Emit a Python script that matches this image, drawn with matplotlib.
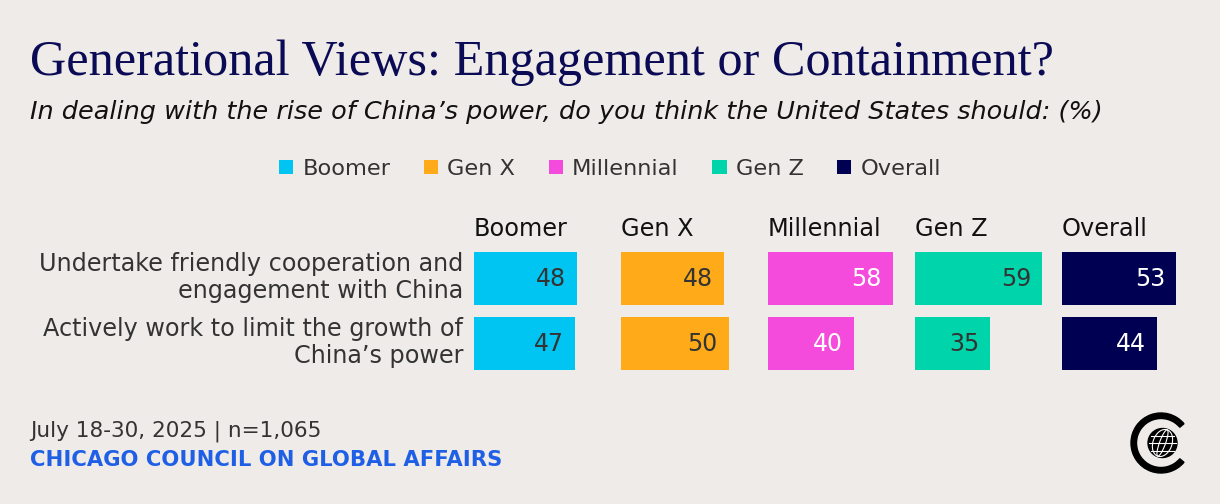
import matplotlib.pyplot as plt
from matplotlib.patches import Patch, Wedge, Circle, Ellipse

W, H = 1220, 504
BG = '#efebe8'
NAVY = '#0b0b55'
TXT = '#333333'

# data -------------------------------------------------------------
groups = ['Boomer', 'Gen X', 'Millennial', 'Gen Z', 'Overall']
answers = ['Undertake friendly cooperation and\nengagement with China',
           'Actively work to limit the growth of\nChina\u2019s power']
boomer = [48, 47]
gen_x = [48, 50]
millennial = [58, 40]
gen_z = [59, 35]
overall = [53, 44]
series = [boomer, gen_x, millennial, gen_z, overall]

colors = ['#00c4f2', '#ffab19', '#f54bdc', '#00d4aa', '#000052']
value_colors = [TXT, TXT, 'white', TXT, 'white']


def fx(x):
    return x / W


def fy(y):
    return 1 - y / H


fig = plt.figure(figsize=(W / 100, H / 100), dpi=100, facecolor=BG)

# titles
fig.text(fx(30), fy(75), 'Generational Views: Engagement or Containment?',
         family='Liberation Serif', fontsize=36.2, color=NAVY, va='baseline')
fig.text(fx(30), fy(119),
         'In dealing with the rise of China\u2019s power, do you think the United States should: (%)',
         family='DejaVu Sans', style='italic', fontsize=18.35, color='#111111', va='baseline')

# legend
handles = [Patch(facecolor=c, edgecolor='none', label=g) for g, c in zip(groups, colors)]
fig.legend(handles=handles, loc='center', bbox_to_anchor=(fx(610), fy(169)), ncol=5,
           frameon=False, handlelength=0.63, handleheight=0.63,
           handletextpad=0.4, columnspacing=1.5, labelcolor=TXT,
           prop={'family': 'DejaVu Sans', 'size': 16.2})

# panels
px_per_unit = 2.15
ax_w = 140
top, bot = 246, 376
for i, (g, vals) in enumerate(zip(groups, series)):
    left = 474 + i * 147
    ax = fig.add_axes([fx(left), fy(bot), fx(ax_w), (bot - top) / H])
    ax.set_facecolor('none')
    ax.barh(range(len(vals)), vals, height=0.815, color=colors[i])
    ax.set_xlim(0, ax_w / px_per_unit)
    ax.set_ylim(1.5, -0.5)
    for j, v in enumerate(vals):
        ax.text(v - 5.0, j + 0.015, str(v), ha='right', va='center', fontsize=17,
                color=value_colors[i], family='DejaVu Sans')
    ax.text(0, 1.0 + 10 / (bot - top), g, transform=ax.transAxes, ha='left',
            va='baseline', fontsize=17.3, color='#111111', family='DejaVu Sans')
    ax.axis('off')

# row labels
for j, a in enumerate(answers):
    yc = 277.5 + j * 65
    fig.text(fx(463), fy(yc), a, ha='right', va='center', fontsize=17.2,
             color=TXT, family='DejaVu Sans', linespacing=1.18)

# footer
fig.text(fx(30), fy(437), 'July 18-30, 2025 | n=1,065', fontsize=15.6,
         color=TXT, family='DejaVu Sans', va='baseline')
fig.text(fx(30), fy(466), 'CHICAGO COUNCIL ON GLOBAL AFFAIRS', fontsize=15.2,
         color='#1f5fe6', family='DejaVu Sans', weight='bold', va='baseline')

# logo
cx, cy = 1161, 443
lax = fig.add_axes([fx(cx - 35), fy(cy + 35), fx(70), 70 / H])
lax.set_xlim(-35, 35)
lax.set_ylim(-35, 35)
lax.set_aspect('equal')
lax.axis('off')
lax.add_patch(Wedge((0, 0), 30, 40, 320, width=5.5, color='black'))
lax.add_patch(Circle((1.5, 0), 14.5, color='black'))
for w in (19, 6):
    lax.add_patch(Ellipse((1.5, 0), w, 28, angle=-20, fill=False, ec='white', lw=0.8))
for yy in (-7.5, 0, 7.5):
    hw = (14.5 ** 2 - yy ** 2) ** 0.5 - 1
    lax.plot([1.5 - hw, 1.5 + hw], [yy, yy], color='white', lw=0.8)

fig.savefig('out.png', dpi=100, facecolor=BG)
